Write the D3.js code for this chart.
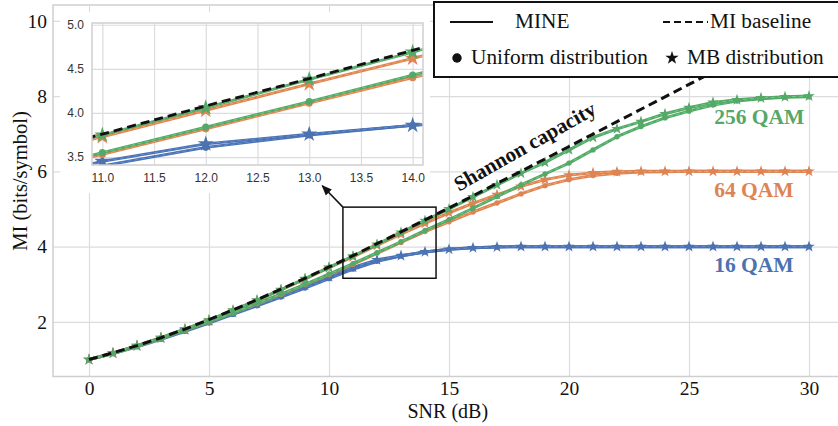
<!DOCTYPE html>
<html>
<head>
<meta charset="utf-8">
<script src="https://cdn.jsdelivr.net/npm/d3@7"></script>
<style>
  body { margin: 0; background: #fff; }
  .serif { font-family: "Liberation Serif", "Times New Roman", serif; }
  .sans { font-family: "Liberation Sans", Arial, sans-serif; }
</style>
</head>
<body>
<svg id="chart" width="838" height="426"></svg>
<script>
// SNR grid in dB
const snr = [0,1,2,3,4,5,6,7,8,9,10,11,12,13,14,15,16,17,18,19,20,21,22,23,24,25,26,27,28,29,30]

// Shannon capacity (black dashed)
const shannon = [1.00,1.18,1.37,1.58,1.81,2.06,2.32,2.59,2.87,3.16,3.46,3.76,4.08,4.39,4.71,5.03,5.35,5.68,6.00,6.33,6.66,6.99,7.32,7.65,7.98,8.31,8.64,8.97,9.30,9.64,9.97]

// MINE estimates, uniform distribution (circles)
const qam16Uniform = [1.00,1.16,1.34,1.54,1.75,1.97,2.20,2.43,2.66,2.90,3.15,3.40,3.61,3.75,3.86,3.93,3.97,3.99,4.00,4.00,4.00,4.00,4.00,4.00,4.00,4.00,4.00,4.00,4.00,4.00,4.00]
const qam64Uniform = [1.00,1.16,1.35,1.56,1.78,2.00,2.24,2.48,2.73,2.99,3.26,3.53,3.82,4.11,4.40,4.66,4.92,5.16,5.40,5.62,5.78,5.89,5.95,5.98,5.99,6.00,6.00,6.00,6.00,6.00,6.00]
const qam256Uniform = [1.00,1.16,1.35,1.56,1.78,2.00,2.24,2.49,2.74,3.00,3.27,3.55,3.84,4.13,4.43,4.72,5.02,5.33,5.64,5.93,6.22,6.57,6.92,7.19,7.42,7.60,7.76,7.87,7.93,7.97,7.98]

// MINE estimates, MB distribution (stars)
const qam16MB = [1.00,1.17,1.36,1.57,1.79,2.02,2.25,2.49,2.73,2.97,3.20,3.45,3.65,3.76,3.86,3.93,3.97,3.99,4.00,4.00,4.00,4.00,4.00,4.00,4.00,4.00,4.00,4.00,4.00,4.00,4.00]
const qam64MB = [1.00,1.17,1.37,1.58,1.81,2.05,2.30,2.57,2.85,3.14,3.44,3.73,4.03,4.33,4.62,4.90,5.15,5.38,5.60,5.78,5.90,5.96,5.99,6.00,6.00,6.00,6.00,6.00,6.00,6.00,6.00]
const qam256MB = [1.00,1.17,1.37,1.58,1.81,2.05,2.31,2.58,2.86,3.15,3.45,3.75,4.06,4.38,4.69,5.00,5.32,5.64,5.95,6.24,6.57,6.90,7.13,7.32,7.53,7.69,7.83,7.90,7.95,7.98,8.00]

const xTicks = [0,5,10,15,20,25,30]
const yTicks = [2,4,6,8,10]
const insetXTicks = [11.0,11.5,12.0,12.5,13.0,13.5,14.0]
const insetYTicks = [3.5,4.0,4.5,5.0]

const blue = '#4c72b0', orange = '#dd8452', green = '#55a868'
const series = [
  {name: '16 QAM', color: blue, uniform: qam16Uniform, mb: qam16MB},
  {name: '64 QAM', color: orange, uniform: qam64Uniform, mb: qam64MB},
  {name: '256 QAM', color: green, uniform: qam256Uniform, mb: qam256MB}
]

const svg = d3.select('#chart')
svg.append('rect').attr('width', 838).attr('height', 426).attr('fill', '#fff')
const defs = svg.append('defs')

// main axes
const x = d3.scaleLinear().domain([-1.5, 31.5]).range([53, 845])
const y = d3.scaleLinear().domain([0.55, 10.42]).range([376.5, 5])

const grid = '#dcdcdc'

// grid + ticks
const xAxis = svg.append('g')
  .attr('transform', `translate(0,${y.range()[0]})`)
  .call(d3.axisBottom(x).tickValues(xTicks).tickSize(-(y.range()[0] - y.range()[1])).tickPadding(5))
const yAxis = svg.append('g')
  .attr('transform', `translate(${x.range()[0]},0)`)
  .call(d3.axisLeft(y).tickValues(yTicks).tickSize(-(x.range()[1] - x.range()[0])).tickPadding(6))
for (const ax of [xAxis, yAxis]) {
  ax.select('.domain').remove()
  ax.selectAll('line').attr('stroke', grid).attr('stroke-width', 1.2)
  ax.selectAll('text').attr('class', 'serif').attr('font-size', 19.5).attr('fill', '#111')
}
// spines
svg.append('rect')
  .attr('x', x.range()[0]).attr('y', y.range()[1])
  .attr('width', x.range()[1] - x.range()[0]).attr('height', y.range()[0] - y.range()[1])
  .attr('fill', 'none').attr('stroke', '#cfcfcf').attr('stroke-width', 1.5)

defs.append('clipPath').attr('id', 'mainClip')
  .append('rect')
  .attr('x', x.range()[0]).attr('y', y.range()[1])
  .attr('width', x.range()[1] - x.range()[0]).attr('height', y.range()[0] - y.range()[1])

const star = d3.symbol().type(d3.symbolStar)
const circle = d3.symbol().type(d3.symbolCircle)

function drawCurves(g, sx, sy, lw, starSize, circSize) {
  const line = vals => d3.line().x((d, i) => sx(snr[i])).y(d => sy(d))(vals)
  series.forEach(s => {
    ;[['uniform', circle, circSize], ['mb', star, starSize]].forEach(([k, sym, size]) => {
      g.append('path').attr('d', line(s[k]))
        .attr('fill', 'none').attr('stroke', s.color).attr('stroke-width', lw)
        .attr('stroke-linejoin', 'round')
      // MI baseline overlay
      g.append('path').attr('d', line(s[k]))
        .attr('fill', 'none').attr('stroke', d3.color(s.color).brighter(0.7)).attr('stroke-width', 1)
        .attr('stroke-dasharray', '4,3').attr('opacity', 0.8)
      g.selectAll(null).data(s[k]).enter().append('path')
        .attr('transform', (d, i) => `translate(${sx(snr[i])},${sy(d)})`)
        .attr('d', sym.size(size))
        .attr('fill', s.color)
    })
  })
  g.append('path').attr('d', line(shannon))
    .attr('fill', 'none').attr('stroke', '#111').attr('stroke-width', lw)
    .attr('stroke-dasharray', '9,5')
}

const main = svg.append('g').attr('clip-path', 'url(#mainClip)')
drawCurves(main, x, y, 3, 42, 22)

// QAM labels
const qamLabels = [
  {text: '256 QAM', color: green, mi: 7.27},
  {text: '64 QAM', color: orange, mi: 5.32},
  {text: '16 QAM', color: blue, mi: 3.32}
]
svg.selectAll('.qam').data(qamLabels).enter().append('text')
  .attr('class', 'serif').attr('x', x(26.05)).attr('y', d => y(d.mi))
  .attr('font-size', 21.5).attr('font-weight', 'bold').attr('fill', d => d.color)
  .text(d => d.text)

svg.append('text').attr('class', 'serif')
  .attr('transform', `translate(${x(18.3)},${y(6.5)}) rotate(-29.5)`)
  .attr('text-anchor', 'middle').attr('font-size', 21).attr('font-weight', 'bold')
  .attr('fill', '#111').text('Shannon capacity')

// zoom box
const box = {x0: 10.58, x1: 14.46, y0: 3.16, y1: 5.05}
svg.append('rect')
  .attr('x', x(box.x0)).attr('y', y(box.y1))
  .attr('width', x(box.x1) - x(box.x0)).attr('height', y(box.y0) - y(box.y1))
  .attr('fill', 'none').attr('stroke', '#111').attr('stroke-width', 1.5)

// inset
const xi = d3.scaleLinear().domain([10.9, 14.1]).range([92, 423])
const yi = d3.scaleLinear().domain([3.41, 5.02]).range([165, 23])
const inset = svg.append('g')
inset.append('rect').attr('x', 60).attr('y', 12).attr('width', 370).attr('height', 181).attr('fill', '#fff')
const ixAxis = inset.append('g')
  .attr('transform', `translate(0,${yi.range()[0]})`)
  .call(d3.axisBottom(xi).tickValues(insetXTicks).tickFormat(d3.format('.1f'))
    .tickSize(-(yi.range()[0] - yi.range()[1])).tickPadding(8))
const iyAxis = inset.append('g')
  .attr('transform', `translate(${xi.range()[0]},0)`)
  .call(d3.axisLeft(yi).tickValues(insetYTicks).tickFormat(d3.format('.1f'))
    .tickSize(-(xi.range()[1] - xi.range()[0])).tickPadding(8))
for (const ax of [ixAxis, iyAxis]) {
  ax.select('.domain').remove()
  ax.selectAll('line').attr('stroke', grid).attr('stroke-width', 1.2)
  ax.selectAll('text').attr('class', 'sans').attr('font-size', 12).attr('fill', '#333')
}
defs.append('clipPath').attr('id', 'insetClip')
  .append('rect')
  .attr('x', xi.range()[0]).attr('y', yi.range()[1])
  .attr('width', xi.range()[1] - xi.range()[0]).attr('height', yi.range()[0] - yi.range()[1])
const insetPlot = inset.append('g').attr('clip-path', 'url(#insetClip)')
drawCurves(insetPlot, xi, yi, 2.8, 80, 40)
inset.append('rect')
  .attr('x', xi.range()[0]).attr('y', yi.range()[1])
  .attr('width', xi.range()[1] - xi.range()[0]).attr('height', yi.range()[0] - yi.range()[1])
  .attr('fill', 'none').attr('stroke', '#cfcfcf').attr('stroke-width', 1.5)

// arrow from the zoom box to the inset
defs.append('marker').attr('id', 'arrow')
  .attr('viewBox', '0 0 10 10').attr('refX', 9).attr('refY', 5)
  .attr('markerWidth', 7).attr('markerHeight', 7).attr('orient', 'auto')
  .append('path').attr('d', 'M0,1 L10,5 L0,9 Z').attr('fill', '#111')
svg.append('line')
  .attr('x1', x(box.x0)).attr('y1', y(box.y1))
  .attr('x2', x(9.72)).attr('y2', y(5.62))
  .attr('stroke', '#111').attr('stroke-width', 1.5).attr('marker-end', 'url(#arrow)')

// axis titles
svg.append('text').attr('class', 'serif')
  .attr('x', x(14.95)).attr('y', 418).attr('text-anchor', 'middle')
  .attr('font-size', 20).attr('fill', '#111').text('SNR (dB)')
svg.append('text').attr('class', 'serif')
  .attr('transform', `translate(27,181) rotate(-90)`).attr('text-anchor', 'middle')
  .attr('font-size', 20.5).attr('fill', '#111').text('MI (bits/symbol)')

// legend
const leg = svg.append('g')
leg.append('rect').attr('x', 434).attr('y', 2).attr('width', 420).attr('height', 75)
  .attr('fill', '#fff').attr('stroke', '#111').attr('stroke-width', 2)
leg.append('line').attr('x1', 450).attr('x2', 493).attr('y1', 22).attr('y2', 22)
  .attr('stroke', '#111').attr('stroke-width', 2)
leg.append('line').attr('x1', 663).attr('x2', 708).attr('y1', 22).attr('y2', 22)
  .attr('stroke', '#111').attr('stroke-width', 2).attr('stroke-dasharray', '7,4')
leg.append('path').attr('transform', 'translate(457,58)').attr('d', circle.size(70)).attr('fill', '#111')
leg.append('path').attr('transform', 'translate(672,58)').attr('d', star.size(55)).attr('fill', '#111')
const legText = [
  {t: 'MINE', x: 515, y: 28},
  {t: 'MI baseline', x: 710, y: 28},
  {t: 'Uniform distribution', x: 471, y: 64},
  {t: 'MB distribution', x: 687, y: 64}
]
leg.selectAll('.lt').data(legText).enter().append('text')
  .attr('class', 'serif').attr('x', d => d.x).attr('y', d => d.y)
  .attr('font-size', 21.3).attr('fill', '#111').text(d => d.t)
</script>
</body>
</html>
